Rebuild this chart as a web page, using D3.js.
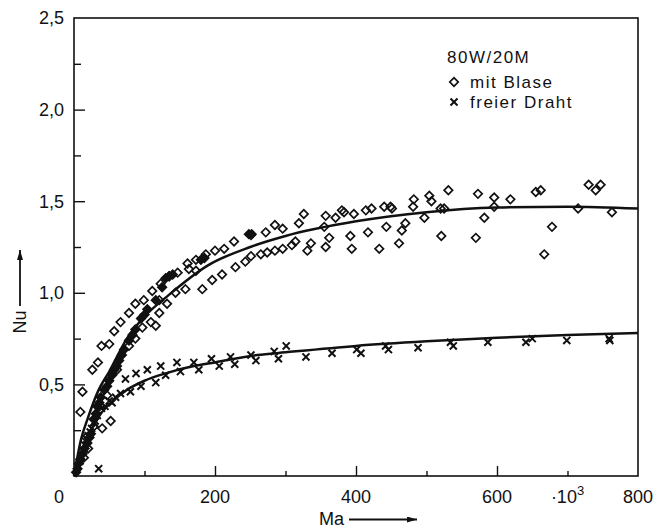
<!DOCTYPE html>
<html>
<head>
<meta charset="utf-8">
<script src="https://cdn.jsdelivr.net/npm/d3@7"></script>
<style>
  html, body { margin: 0; padding: 0; background: #fff; }
  svg { display: block; }
  text { font-family: "Liberation Sans", Arial, sans-serif; fill: #111; }
</style>
</head>
<body>
<svg id="chart" width="670" height="528"></svg>
<script>
// ---------- data ----------
// open diamonds: "mit Blase"
const blaseX = [14,20,9,12,26,34,39,50,57,66,78,87,99,111,123,121,135,147,161,173,187,200,213,227,
  17,28,40,52,47,61,78,87,97,109,116,121,132,144,158,182,196,210,229,243,163,173,
  251,272,285,296,319,326,355,357,371,380,383,397,414,422,440,449,451,482,481,504,507,531,520,525,573,596,596,619,655,662,715,730,740,747,763,
  251,265,274,285,296,309,314,331,336,357,362,392,394,417,433,443,461,465,470,497,521,570,582,678,667];
const blaseY = [0.10,0.15,0.35,0.46,0.58,0.62,0.71,0.72,0.79,0.84,0.89,0.94,0.96,1.01,1.05,0.96,1.09,1.11,1.16,1.18,1.21,1.23,1.24,1.28,
  0.21,0.27,0.26,0.30,0.44,0.58,0.71,0.75,0.81,0.84,0.82,0.89,0.94,1.00,1.02,1.02,1.07,1.10,1.14,1.17,1.13,1.12,
  1.315,1.33,1.37,1.35,1.38,1.43,1.36,1.42,1.41,1.45,1.44,1.43,1.45,1.46,1.47,1.47,1.46,1.51,1.47,1.53,1.50,1.56,1.46,1.46,1.54,1.52,1.47,1.51,1.55,1.56,1.46,1.59,1.56,1.59,1.44,
  1.20,1.21,1.22,1.23,1.24,1.26,1.28,1.23,1.27,1.25,1.30,1.31,1.24,1.33,1.24,1.36,1.27,1.34,1.38,1.41,1.31,1.30,1.41,1.36,1.21];
// dense (overlapping) "mit Blase" points along the fit
const blaseDichtX = [3,5,7,9,12,15,19,22,24,28,31,33,36,38,43,47,50,54,57,61,64,68,71,78,83,87,95,100,104,116,125,130,135,140,180,185,248,252];
const blaseDichtY = [0.02,0.04,0.07,0.09,0.12,0.15,0.18,0.21,0.23,0.31,0.34,0.38,0.40,0.43,0.47,0.49,0.52,0.55,0.58,0.60,0.63,0.66,0.69,0.74,0.77,0.80,0.86,0.88,0.91,0.96,1.03,1.08,1.09,1.10,1.18,1.19,1.32,1.32];
// crosses: "freier Draht"
const drahtX = [5,8,10,13,15,18,20,23,25,28,30,33,35,
  39,44,54,50,73,88,104,123,146,170,195,222,
  59,66,80,95,116,130,151,177,206,228,
  251,258,284,290,301,329,366,401,407,442,446,488,534,538,587,641,650,699,759,760];
const drahtY = [0.05,0.08,0.11,0.14,0.17,0.20,0.22,0.24,0.26,0.29,0.30,0.33,0.04,
  0.37,0.38,0.40,0.41,0.53,0.56,0.58,0.60,0.62,0.62,0.64,0.65,
  0.43,0.45,0.46,0.49,0.51,0.55,0.57,0.58,0.60,0.61,
  0.66,0.63,0.68,0.64,0.71,0.65,0.67,0.69,0.67,0.71,0.69,0.70,0.73,0.71,0.73,0.73,0.75,0.74,0.75,0.74];
// fitted curves
const fitBlaseX = [0,10,20,35,50,75,100,135,190,250,300,400,500,600,700,800];
const fitBlaseY = [0,0.20,0.32,0.47,0.57,0.75,0.87,0.99,1.15,1.25,1.31,1.39,1.44,1.465,1.47,1.46];
const fitDrahtX = [0,10,20,30,40,55,75,100,130,170,200,260,300,400,500,600,700,800];
const fitDrahtY = [0,0.13,0.22,0.29,0.35,0.41,0.47,0.52,0.56,0.60,0.62,0.66,0.675,0.71,0.735,0.755,0.77,0.78];
// ticks
const xMajorTicks = [200,400,600];
const xMinorTicks = [100,300,500,700];
const xLabelValues = [200,400,600,800];
const yMajorTicks = [0.5,1.0,1.5,2.0];
const yMinorTicks = [0.25,0.75,1.25,1.75,2.25];
const yLabelValues = [0.5,1.0,1.5,2.0,2.5];
const legendTitle = "80W/20M";
const legendItems = ["mit Blase","freier Draht"];

// ---------- layout ----------
const svg = d3.select("#chart");
const L = 74, R = 638, T = 18, B = 476;
const x = d3.scaleLinear().domain([0,800]).range([L,R]);
const y = d3.scaleLinear().domain([0,2.5]).range([B,T]);

// frame
svg.append("rect").attr("x",L).attr("y",T).attr("width",R-L).attr("height",B-T)
  .attr("fill","none").attr("stroke","#111").attr("stroke-width",1.6);

// x ticks (inward)
function hideDomain(g){ g.select(".domain").remove(); }
svg.append("g").attr("transform",`translate(0,${B})`)
  .call(d3.axisBottom(x).tickValues(xMajorTicks).tickSize(-10).tickFormat(""))
  .call(hideDomain).selectAll("line").attr("stroke","#111").attr("stroke-width",1.4);
svg.append("g").attr("transform",`translate(0,${B})`)
  .call(d3.axisBottom(x).tickValues(xMinorTicks).tickSize(-5).tickFormat(""))
  .call(hideDomain).selectAll("line").attr("stroke","#111").attr("stroke-width",1.4);
// y ticks
svg.append("g").attr("transform",`translate(${L},0)`)
  .call(d3.axisLeft(y).tickValues(yMajorTicks).tickSize(-11).tickFormat(""))
  .call(hideDomain).selectAll("line").attr("stroke","#111").attr("stroke-width",1.4);
svg.append("g").attr("transform",`translate(${L},0)`)
  .call(d3.axisLeft(y).tickValues(yMinorTicks).tickSize(-7).tickFormat(""))
  .call(hideDomain).selectAll("line").attr("stroke","#111").attr("stroke-width",1.4);

// tick labels
const fmtComma = d => d3.format(".1f")(d).replace(".", ",");
svg.append("g").selectAll("text").data(yLabelValues).join("text")
  .attr("x", L-10).attr("y", d=>y(d)).attr("dy","0.35em")
  .attr("text-anchor","end").attr("font-size",18).text(fmtComma);
svg.append("text").attr("x", L-10).attr("y", 503).attr("text-anchor","end")
  .attr("font-size",18).text("0");
svg.append("g").selectAll("text").data(xLabelValues).join("text")
  .attr("x", d=>x(d)).attr("y", 503)
  .attr("text-anchor","middle").attr("font-size",18).text(d=>d3.format("d")(d));
const mult = svg.append("text").attr("x", x(700)).attr("y", 503)
  .attr("text-anchor","middle").attr("font-size",18);
mult.append("tspan").text("·10");
mult.append("tspan").attr("font-size",13).attr("dy",-8).text("3");

// axis titles with arrows
svg.append("defs").append("marker").attr("id","arr")
  .attr("viewBox","0 0 10 6").attr("refX",10).attr("refY",3)
  .attr("markerWidth",14).attr("markerHeight",6).attr("markerUnits","userSpaceOnUse")
  .attr("orient","auto").append("path").attr("d","M0,0L10,3L0,6Z").attr("fill","#111");
svg.append("text").attr("x",319).attr("y",525).attr("font-size",18).text("Ma");
svg.append("line").attr("x1",349).attr("y1",519.5).attr("x2",417).attr("y2",519.5)
  .attr("stroke","#111").attr("stroke-width",1.8).attr("marker-end","url(#arr)");
svg.append("text").attr("transform","translate(26,322) rotate(-90)")
  .attr("text-anchor","middle").attr("font-size",18).text("Nu");
svg.append("line").attr("x1",20).attr("y1",306).attr("x2",20).attr("y2",250)
  .attr("stroke","#111").attr("stroke-width",1.8).attr("marker-end","url(#arr)");

// fits
const line = d3.line().curve(d3.curveMonotoneX);
svg.append("path").attr("d", line(fitBlaseX.map((v,i)=>[x(v), y(fitBlaseY[i])])))
  .attr("fill","none").attr("stroke","#111").attr("stroke-width",2.5);
svg.append("path").attr("d", line(fitDrahtX.map((v,i)=>[x(v), y(fitDrahtY[i])])))
  .attr("fill","none").attr("stroke","#111").attr("stroke-width",2.5);

// markers
const diamond = d3.symbol().type(d3.symbolSquare).size(36)();
const cross = d3.symbol().type(d3.symbolX).size(34)();
svg.append("g").selectAll("path").data(blaseX.map((v,i)=>[v,blaseY[i]])).join("path")
  .attr("d", diamond).attr("transform", d=>`translate(${x(d[0])},${y(d[1])}) rotate(45)`)
  .attr("fill","none").attr("stroke","#111").attr("stroke-width",1.7);
svg.append("g").selectAll("path").data(blaseDichtX.map((v,i)=>[v,blaseDichtY[i]])).join("path")
  .attr("d", diamond).attr("transform", d=>`translate(${x(d[0])},${y(d[1])}) rotate(45)`)
  .attr("fill","#111").attr("stroke","#111").attr("stroke-width",1.7);
svg.append("g").selectAll("path").data(drahtX.map((v,i)=>[v,drahtY[i]])).join("path")
  .attr("d", cross).attr("transform", d=>`translate(${x(d[0])},${y(d[1])})`)
  .attr("fill","none").attr("stroke","#111").attr("stroke-width",2);

// legend
const lg = svg.append("g").attr("font-size",17).attr("letter-spacing","1.5px");
lg.append("text").attr("x",447).attr("y",63).text(legendTitle);
lg.append("path").attr("d",diamond).attr("transform","translate(454,82) rotate(45)")
  .attr("fill","none").attr("stroke","#111").attr("stroke-width",1.7);
lg.append("text").attr("x",470).attr("y",88).text(legendItems[0]);
lg.append("path").attr("d",cross).attr("transform","translate(454,102)")
  .attr("fill","none").attr("stroke","#111").attr("stroke-width",2);
lg.append("text").attr("x",470).attr("y",108).text(legendItems[1]);
</script>
</body>
</html>
